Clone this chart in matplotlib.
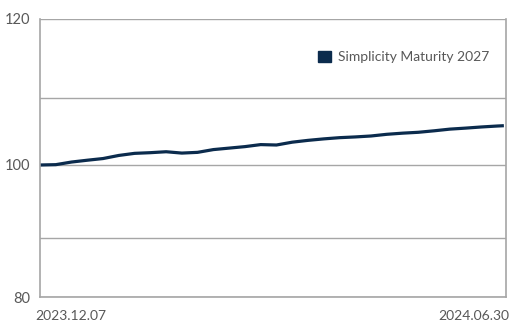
import numpy as np
import pandas as pd
import matplotlib
matplotlib.use("Agg")
import matplotlib.pyplot as plt
from matplotlib.patches import Patch

start = pd.Timestamp("2023-12-07")
end = pd.Timestamp("2024-06-30")

# weekly readings, last point on 2024.06.30
days = [0, 7, 14, 21, 28, 35, 42, 49, 56, 63, 70, 77, 84, 91, 98, 105,
        112, 119, 126, 133, 140, 147, 154, 161, 168, 175, 182, 189, 196, 203, 206]
values = [100.00, 100.05, 100.44, 100.71, 100.96, 101.42, 101.73, 101.83, 101.97,
          101.77, 101.88, 102.29, 102.51, 102.73, 103.03, 102.97, 103.39, 103.66,
          103.88, 104.06, 104.17, 104.31, 104.56, 104.73, 104.86, 105.08, 105.33,
          105.48, 105.65, 105.79, 105.84]
dates = [start + pd.Timedelta(days=d) for d in days]

series_name = "Simplicity Maturity 2027"
y_ticks = [80, 100, 120]
grid_vals = [80, 90, 100, 110, 120]
# the original axis is not evenly spaced, map gridlines to where they sit
grid_pos = [0.0, 0.2131, 0.4743, 0.7161, 1.0]

navy = "#0b2b4d"
grey_txt = "#585858"
grid_c = "#a6a6a6"

plt.rcParams['font.family'] = ['Lato', 'DejaVu Sans']

fig = plt.figure(figsize=(5.13, 3.22), dpi=100)
ax = fig.add_axes([0.078, 0.0776, 0.9086, 0.8644])

ax.set_yscale('function', functions=(lambda v: np.interp(v, grid_vals, grid_pos),
                                     lambda p: np.interp(p, grid_pos, grid_vals)))

ax.plot(dates, values, color=navy, lw=2.3, solid_capstyle='butt')

ax.set_xlim(start, end + pd.Timedelta(days=1))
ax.set_ylim(80, 120)

ax.set_yticks(grid_vals)
ax.set_yticklabels([str(v) if v in y_ticks else "" for v in grid_vals])
ax.tick_params(axis='y', length=0, pad=7, labelsize=10.5, labelcolor=grey_txt)
ax.yaxis.grid(True, color=grid_c, lw=1)

ax.set_xticks([])
ax.text(-0.011, -0.068, start.strftime("%Y.%m.%d"), transform=ax.transAxes,
        ha='left', va='center', fontsize=10, color=grey_txt)
ax.text(1.0064, -0.068, end.strftime("%Y.%m.%d"), transform=ax.transAxes,
        ha='right', va='center', fontsize=10, color=grey_txt)

for side in ['left', 'right', 'bottom']:
    ax.spines[side].set_color(grid_c)
    ax.spines[side].set_linewidth(1.2)
ax.spines['top'].set_visible(False)

leg = ax.legend(handles=[Patch(color=navy, label=series_name)], loc='upper right',
                bbox_to_anchor=(0.99, 0.93), frameon=False, fontsize=10,
                handlelength=0.9, handleheight=0.9, handletextpad=0.5,
                labelcolor=grey_txt)

fig.savefig("out.png", dpi=100)
